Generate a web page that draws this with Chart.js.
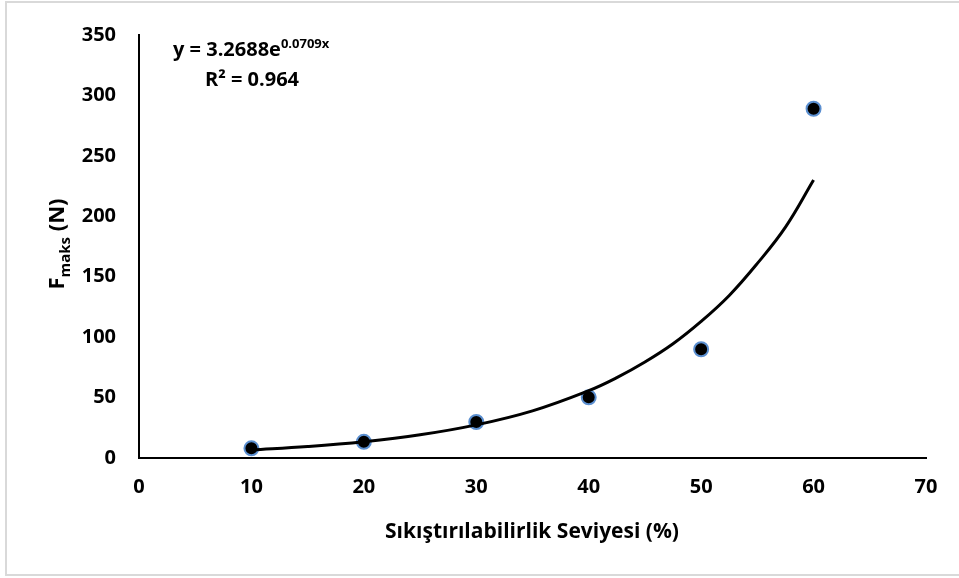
<!DOCTYPE html>
<html>
<head>
<meta charset="utf-8">
<script src="https://cdn.jsdelivr.net/npm/chart.js@4.4.1/dist/chart.umd.min.js"></script>
<style>
  body { margin: 0; background: #fff; }
  #wrap { position: relative; width: 959px; height: 578px; overflow: hidden; }
  #frame { position: absolute; left: 5px; top: 1px; width: 970px; height: 575px; border: 2px solid #d9d9d9; box-sizing: border-box; }
  canvas { position: absolute; left: 0; top: 0; }
</style>
</head>
<body>
<div id="wrap">
  <div id="frame"></div>
  <canvas id="scatterChart" width="959" height="578"></canvas>
</div>
<script>
// measured points
var xValues = [10, 20, 30, 40, 50, 60];
var fMaks = [8, 13.4, 29.8, 50.2, 90, 289];

// trendline
var trendX = [10, 15, 20, 25, 30, 35, 40, 42.5, 45, 47.5, 50, 52.5, 55, 57.5, 60];
var trendY = [6.6, 9.5, 13.5, 19.2, 27.4, 39, 55.7, 66.5, 79.4, 94.5, 113, 134.5, 161, 191, 230];

var xTicks = [0, 10, 20, 30, 40, 50, 60, 70];
var yTicks = [0, 50, 100, 150, 200, 250, 300, 350];

var FONT = '"Open Sans", sans-serif';

// axis titles and the equation box, Excel style
var labelsPlugin = {
  id: 'labels',
  afterDraw: function (chart) {
    var ctx = chart.ctx;
    ctx.save();
    ctx.fillStyle = '#000';
    ctx.textBaseline = 'alphabetic';

    // x title
    ctx.font = 'bold 21px ' + FONT;
    ctx.textAlign = 'center';
    ctx.fillText('Sıkıştırılabilirlik Seviyesi (%)', 532, 538);

    // y title, rotated, with subscript
    ctx.translate(64, 244);
    ctx.rotate(-Math.PI / 2);
    ctx.textAlign = 'left';
    var big = 'bold 22px ' + FONT, small = 'bold 15px ' + FONT;
    ctx.font = big; var wF = ctx.measureText('F').width;
    ctx.font = small; var wSub = ctx.measureText('maks').width;
    ctx.font = big; var wN = ctx.measureText(' (N)').width;
    var x0 = -(wF + wSub + wN) / 2;
    ctx.font = big; ctx.fillText('F', x0, 0);
    ctx.font = small; ctx.fillText('maks', x0 + wF, 6);
    ctx.font = big; ctx.fillText(' (N)', x0 + wF + wSub, 0);
    ctx.setTransform(1, 0, 0, 1, 0, 0);

    // equation
    ctx.font = 'bold 20px ' + FONT;
    ctx.textAlign = 'left';
    var eq = 'y = 3.2688e';
    ctx.fillText(eq, 173, 56);
    var wEq = ctx.measureText(eq).width;
    ctx.font = 'bold 13px ' + FONT;
    ctx.fillText('0.0709x', 173 + wEq, 48);
    ctx.font = 'bold 20px ' + FONT;
    ctx.fillText('R² = 0.964', 205, 86);
    ctx.restore();
  }
};

var ctx = document.getElementById('scatterChart').getContext('2d');
var chart = new Chart(ctx, {
  type: 'scatter',
  data: {
    datasets: [{
      type: 'line',
      label: 'Trend',
      data: trendX.map(function (x, i) { return { x: x, y: trendY[i] }; }),
      borderColor: '#000',
      borderWidth: 3,
      pointRadius: 0,
      tension: 0.4,
      fill: false,
      order: 0
    }, {
      label: 'Fmaks',
      data: xValues.map(function (x, i) { return { x: x, y: fMaks[i] }; }),
      backgroundColor: '#000',
      borderColor: '#5b8fd0',
      borderWidth: 2,
      pointRadius: 7,
      order: 1
    }]
  },
  options: {
    responsive: false,
    animation: false,
    layout: { padding: { left: 0, right: 33, top: 31, bottom: 0 } },
    plugins: { legend: { display: false }, tooltip: { enabled: false } },
    scales: {
      x: {
        type: 'linear',
        min: 0, max: 70,
        afterBuildTicks: function (s) { s.ticks = xTicks.map(function (v) { return { value: v }; }); },
        afterFit: function (s) { s.height = 120; },
        grid: { display: false, drawTicks: false },
        border: { display: true, color: '#000', width: 2 },
        ticks: { color: '#000', padding: 17, font: { family: FONT, size: 20, weight: 'bold' } }
      },
      y: {
        min: 0, max: 350,
        afterBuildTicks: function (s) { s.ticks = yTicks.map(function (v) { return { value: v }; }); },
        afterFit: function (s) { s.width = 139; },
        grid: { display: false, drawTicks: false },
        border: { display: true, color: '#000', width: 2 },
        ticks: { color: '#000', padding: 23, font: { family: FONT, size: 20, weight: 'bold' } }
      }
    }
  },
  plugins: [labelsPlugin]
});
</script>
</body>
</html>
